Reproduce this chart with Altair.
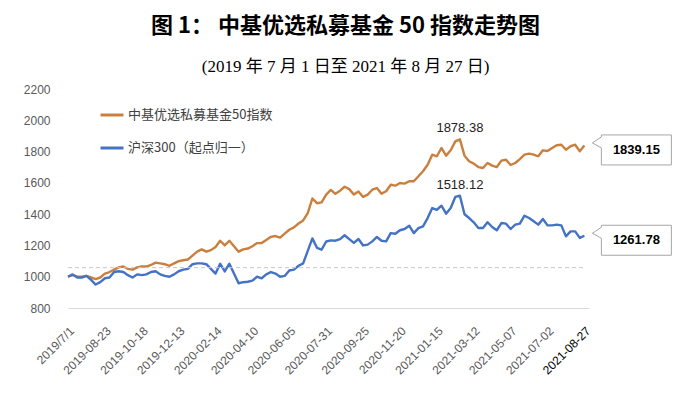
import altair as alt
import pandas as pd

# ---- data (weekly, category index 0..112) ----
fund_index = [
    1000, 1010, 1000, 1000, 1005, 995, 985, 995, 1020, 1030,
    1045, 1060, 1065, 1050, 1045, 1060, 1065, 1065, 1075, 1090,
    1085, 1080, 1070, 1085, 1100, 1105, 1110, 1135, 1160, 1175,
    1160, 1170, 1190, 1230, 1200, 1230, 1195, 1160, 1175, 1180,
    1195, 1215, 1215, 1235, 1255, 1260, 1250, 1275, 1300, 1315,
    1340, 1360, 1407, 1500, 1470, 1475, 1525, 1555, 1530, 1550,
    1575, 1560, 1525, 1545, 1510, 1525, 1556, 1567, 1531, 1546,
    1588, 1582, 1599, 1595, 1610, 1610, 1642, 1674, 1716, 1780,
    1770, 1823, 1774, 1808, 1865, 1878.38, 1774, 1738, 1723, 1701,
    1695, 1727, 1710, 1701, 1742, 1748, 1714, 1727, 1752, 1780,
    1787, 1780, 1770, 1808, 1804, 1823, 1840, 1844, 1812, 1834,
    1844, 1802, 1839.15,
]
hs300 = [
    1000, 1015, 995, 995, 1005, 980, 950, 965, 990, 995,
    1030, 1035, 1030, 1010, 995, 1015, 1010, 1015, 1030, 1035,
    1015, 1005, 1000, 1015, 1035, 1045, 1050, 1080, 1085, 1085,
    1080, 1050, 1020, 1083, 1034, 1083, 1020, 958, 965, 968,
    975, 1000, 990, 1015, 1030, 1020, 1000, 1005, 1040, 1045,
    1070, 1085, 1165, 1245, 1185, 1173, 1225, 1232, 1230, 1240,
    1265, 1240, 1216, 1241, 1200, 1205, 1226, 1254, 1230, 1226,
    1279, 1275, 1297, 1305, 1326, 1279, 1311, 1322, 1375, 1439,
    1428, 1454, 1403, 1439, 1510, 1518.12, 1399, 1375, 1348, 1311,
    1311, 1348, 1318, 1297, 1343, 1339, 1305, 1333, 1339, 1390,
    1375, 1354, 1333, 1369, 1328, 1328, 1333, 1328, 1258, 1290,
    1290, 1248, 1261.78,
]
tick_labels = [
    "2019/7/1", "2019-08-23", "2019-10-18", "2019-12-13", "2020-02-14",
    "2020-04-10", "2020-06-05", "2020-07-31", "2020-09-25", "2020-11-20",
    "2021-01-15", "2021-03-12", "2021-05-07", "2021-07-02", "2021-08-27",
]
tick_step = 8
y_ticks = [800, 1000, 1200, 1400, 1600, 1800, 2000, 2200]
series_names = ["中基优选私募基金50指数", "沪深300（起点归一）"]
series_colors = ["#C9803E", "#4472C4"]
ref_level = 1058

# ---- tables ----
rows = []
for name, vals in zip(series_names, [fund_index, hs300]):
    for i, v in enumerate(vals):
        rows.append({"idx": i, "value": v, "series": name})
df = pd.DataFrame(rows)

peaks = df.loc[df.groupby("series")["value"].idxmax()].copy()
peaks["label"] = peaks["value"].map(lambda v: f"{v:.2f}")
last = df[df["idx"] == df["idx"].max()].copy()
last["label"] = last["value"].map(lambda v: f"{v:.2f}")
ref_df = pd.DataFrame({"idx": [0], "idx2": [len(fund_index) - 1], "value": [ref_level]})

n = len(fund_index)
label_arr = "[" + ",".join(f"'{t}'" for t in tick_labels) + "]"
last_val = (len(tick_labels) - 1) * tick_step

x_scale = alt.Scale(domain=[0, n], nice=False, zero=False)
y_scale = alt.Scale(domain=[y_ticks[0], y_ticks[-1]], nice=False, zero=False)

x_axis = alt.Axis(
    values=list(range(0, n, tick_step)),
    labelExpr=f"{label_arr}[datum.value/{tick_step}]",
    labelAngle=-45,
    labelFontSize=12,
    labelFont="Liberation Sans",
    labelColor={"condition": {"test": f"datum.value == {last_val}", "value": "#000000"},
                "value": "#595959"},
    labelPadding=17,
    labelOverlap=False,
    labelBound=False,
    labelFlush=False,
    ticks=False,
    grid=False,
    domainColor="#d9d9d9",
    domainWidth=1,
    title=None,
)
y_axis = alt.Axis(
    values=y_ticks,
    format="d",
    labelFontSize=12,
    labelFont="Liberation Sans",
    labelColor="#595959",
    labelPadding=18,
    labelOverlap=False,
    labelFlush=False,
    ticks=False,
    grid=False,
    domain=False,
    title=None,
)

X = alt.X("idx:Q", scale=x_scale, axis=x_axis)
Y = alt.Y("value:Q", scale=y_scale, axis=y_axis)

lines = alt.Chart(df).mark_line(strokeWidth=2.4, strokeJoin="round").encode(
    x=X,
    y=Y,
    color=alt.Color(
        "series:N",
        scale=alt.Scale(domain=series_names, range=series_colors),
        legend=alt.Legend(
            orient="none", legendX=31, legendY=13, title=None,
            symbolType="stroke", symbolSize=529, symbolStrokeWidth=3,
            labelFontSize=13, labelFont="Noto Sans CJK SC", labelColor="#404040",
            labelOffset=3, rowPadding=13, padding=0,
        ),
    ),
    order="idx:Q",
)

ref_rule = alt.Chart(ref_df).mark_rule(color="#c8c8c8", strokeDash=[4, 3], strokeWidth=1).encode(
    x=X, x2="idx2:Q", y=Y
)

peak_text = alt.Chart(peaks).mark_text(
    dy=-11, fontSize=13, font="Liberation Sans", color="#222222"
).encode(x=X, y=Y, text="label:N")

callout_path = "M17,-10.5 L87,-10.5 L87,19.5 L17,19.5 L17,2.5 L8,-2.5 L17,-8.5 Z"
callout_box = alt.Chart(last).mark_point(
    shape=callout_path, size=4, filled=True, fill="white", stroke="#a6a6a6",
    strokeWidth=1, opacity=1, fillOpacity=1,
).encode(x=X, y=Y)
callout_text = alt.Chart(last).mark_text(
    dx=52, dy=4.5, fontSize=13, fontWeight="bold", font="Liberation Sans", color="#000000"
).encode(x=X, y=Y, text="label:N")

chart = alt.layer(lines, ref_rule, peak_text, callout_box, callout_text).properties(
    width=521,
    height=219,
    autosize=alt.AutoSizeParams(type="none"),
    padding={"left": 60, "top": 81, "right": 93, "bottom": 85},
    title=alt.TitleParams(
        text="图 1： 中基优选私募基金 50 指数走势图",
        subtitle="(2019 年 7 月 1 日至 2021 年 8 月 27 日)",
        font="Noto Sans CJK SC",
        fontSize=22,
        fontWeight="bold",
        color="#000000",
        subtitleFont="Liberation Serif, Noto Sans CJK SC",
        subtitleFontSize=17,
        subtitleColor="#000000",
        subtitlePadding=21.5,
        anchor="middle",
        dx=17,
        offset=7,
    ),
).configure(background="white").configure_view(strokeWidth=0, stroke="transparent")

chart.save("out.html", embed_options={"renderer": "svg", "actions": False})
